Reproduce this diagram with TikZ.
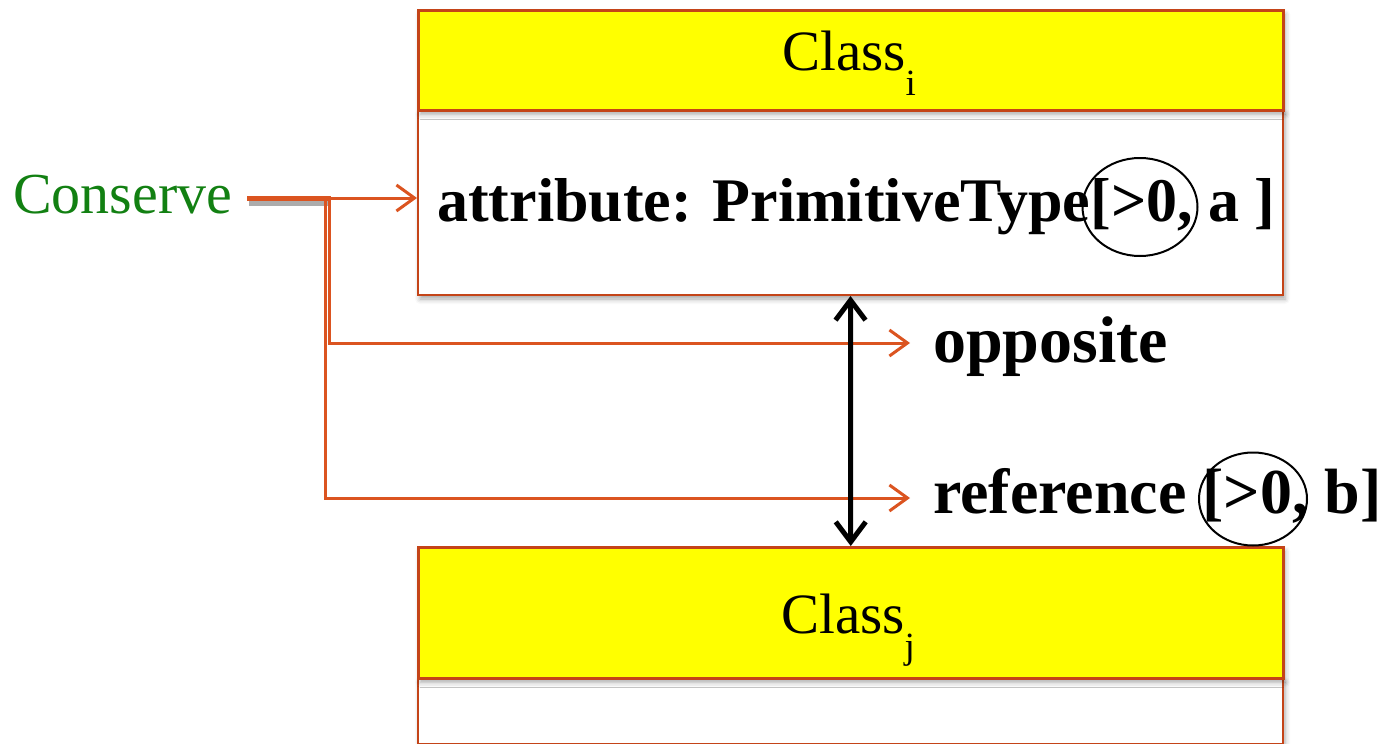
\documentclass[tikz,border=0pt]{standalone}
\usepackage{fontspec}
\setmainfont{Liberation Serif}
\usetikzlibrary{arrows.meta,shapes.geometric,shadows.blur}

\definecolor{lineorange}{RGB}{219,84,32}
\definecolor{boxedge}{RGB}{196,68,24}
\definecolor{hdryellow}{RGB}{255,255,0}
\definecolor{termgreen}{RGB}{18,128,18}

\tikzset{
  softshadow/.style={blur shadow={shadow xshift=2pt, shadow yshift=-4pt,
      shadow blur radius=5pt, shadow opacity=35}},
  classhdr/.style={draw=boxedge, line width=2.5, fill=hdryellow,
      minimum width=865, anchor=north west, inner sep=0, softshadow},
  classbody/.style={draw=boxedge, line width=2, fill=white,
      minimum width=865, anchor=north west, inner sep=0, softshadow},
  classname/.style={anchor=base west, inner sep=0, font=\fontsize{57}{60}\selectfont},
  member/.style={anchor=base west, inner sep=0, font=\fontsize{64}{66}\selectfont\bfseries},
  conn/.style={draw=lineorange, line width=3},
  connarrow/.style={conn, -{Straight Barb[length=18, width=26, line width=3]}},
  assoc/.style={draw=black, line width=5,
      {Straight Barb[length=20, width=30, line width=5]}-{Straight Barb[length=20, width=30, line width=5]}},
  ring/.style={ellipse, draw=black, line width=2, inner sep=0}
}

\newcommand{\subidx}[1]{\raisebox{-25pt}{\fontsize{37}{40}\selectfont #1}}

\begin{document}
\begin{tikzpicture}[x=1pt, y=-1pt]
  \useasboundingbox (0,0) rectangle (1385,744);

  % class i
  \node[classbody, minimum height=185] (bi) at (417,109) {};
  \node[classhdr, minimum height=100] (hi) at (417,9) {};
  \node[classname] (ni) at (782,70) {Class\subidx{i}};

  % class j
  \node[classbody, minimum height=66] (bj) at (417,677) {};
  \node[classhdr, minimum height=131] (hj) at (417,546) {};
  \node[classname] (nj) at (781,633) {Class\subidx{j}};

  % member texts
  \node[member, font=\fontsize{62}{66}\selectfont\bfseries, text height=48, text depth=2]
    (attr) at (437,221) {attribute: PrimitiveType[>0, a ]};
  \node[member, font=\fontsize{66}{68}\selectfont\bfseries, text height=45, text depth=7]
    (opp) at (933,362) {opposite};
  \node[member, text height=44, text depth=14] (ref) at (933,513) {reference [>0, b]};

  % circled multiplicities
  \node[ring, minimum width=115, minimum height=98] (ra) at (1140,207) {};
  \node[ring, minimum width=108, minimum height=93] (rb) at (1253,499) {};

  % conserve label and its connectors
  \node[anchor=base west, inner sep=0, text=termgreen,
        font=\fontsize{58}{60}\selectfont, text height=42, text depth=12]
    (cons) at (13,213) {Conserve};
  \coordinate (ja) at (331,198);
  \coordinate (jo) at (329,198);
  \coordinate (jr) at (325,198);

  \draw[line width=5, black!65, opacity=0.5]
    ([xshift=17pt, yshift=-5pt]cons.east) -- ([yshift=-5pt]ja);
  \draw[conn, line width=5] ([xshift=15pt]cons.east) -- (ja);
  \draw[connarrow] (ja) -- (ja -| bi.west);
  \draw[connarrow] (jo) |- ([xshift=-23pt]opp.west);
  \draw[connarrow] (jr) |- ([xshift=-23pt]ref.west);

  % association between the classes
  \draw[assoc] (bi.south) -- (hj.north);
\end{tikzpicture}
\end{document}
